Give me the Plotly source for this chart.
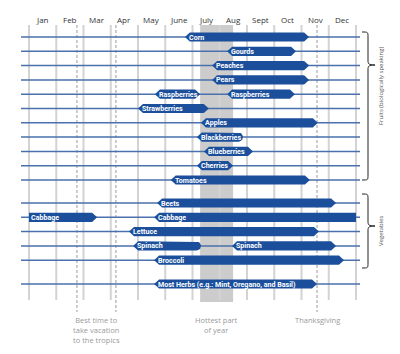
import math
import plotly.graph_objects as go

# ---------------- data ----------------
months = ["Jan", "Feb", "Mar", "Apr", "May", "June", "July", "Aug", "Sept", "Oct", "Nov", "Dec"]

fruit_rows = ["Corn", "Gourds", "Peaches", "Pears", "Raspberries", "Strawberries",
              "Apples", "Blackberries", "Blueberries", "Cherries", "Tomatoes"]
veg_rows = ["Beets", "Cabbage", "Lettuce", "Spinach", "Broccoli"]
herb_rows = ["Most Herbs (e.g.: Mint, Oregano, and Basil)"]

# seasons in months from Jan 1 (0) to Dec 31 (12): (row name, start, end)
season_crop = ["Corn", "Gourds", "Peaches", "Pears", "Raspberries", "Raspberries",
               "Strawberries", "Apples", "Blackberries", "Blueberries", "Cherries", "Tomatoes",
               "Beets", "Cabbage", "Cabbage", "Lettuce", "Spinach", "Spinach", "Broccoli",
               "Most Herbs (e.g.: Mint, Oregano, and Basil)"]
season_start = [5.72, 7.27, 6.72, 6.72, 4.62, 7.27, 4.00, 6.31, 6.16, 6.42, 6.16, 5.20,
                4.70, 0.00, 4.59, 3.67, 3.82, 7.45, 4.59, 4.59]
season_end = [10.28, 9.80, 10.28, 10.28, 6.28, 9.76, 6.60, 10.60, 7.85, 8.22, 7.49, 10.31,
              11.27, 2.50, 12.00, 10.64, 6.31, 11.27, 11.56, 10.57]
season_round_end = [False, False, False, False, False, False, False, False, True, False, False, False,
                    False, False, False, False, True, False, False, False]

vacation_range = [1.76, 3.19]
hottest_range = [6.28, 7.49]
thanksgiving = 10.57

group_labels = ["Fruits (biologically speaking)", "Vegetables"]

# ---------------- layout helpers ----------------
W, H = 400, 354
X0_PX, X_SCALE = 29.0, 27.25      # pixel of Jan 1, pixels per month
Y0_PX, Y_SCALE = 37.0, 14.3       # pixel of first row, pixels per row


def px_x(p):
    return (p - X0_PX) / X_SCALE


def px_y(p):
    return (p - Y0_PX) / Y_SCALE


row_pos = {}
for i, r in enumerate(fruit_rows):
    row_pos[r] = i
for k, r in enumerate(veg_rows):
    row_pos[r] = px_y(203) + k * 1.0
for k, r in enumerate(herb_rows):
    row_pos[r] = px_y(284) + k

BAR = "#1b4f9c"
LINE = "#4a70ad"
GRID = "#d3d3d3"
ANN = "#9a9a9a"

fig = go.Figure()
shapes = []
annotations = []

top_y, bot_y = px_y(25), px_y(300)

# hottest part of year band
shapes.append(dict(type="rect", layer="below", xref="x", yref="y",
                   x0=hottest_range[0], x1=hottest_range[1], y0=top_y, y1=px_y(302),
                   fillcolor="#cccccc", line=dict(width=0, color="rgba(0,0,0,0)")))
# month boundary lines
for m in range(13):
    shapes.append(dict(type="line", layer="below", x0=m, x1=m, y0=top_y, y1=bot_y,
                       line=dict(color=GRID, width=2)))
# dashed event lines
for xv in vacation_range + [thanksgiving]:
    shapes.append(dict(type="line", layer="below", x0=xv, x1=xv, y0=top_y, y1=px_y(312),
                       line=dict(color="#9a9a9a", width=1, dash="3px,2px")))
# horizontal row lines
for r, yv in row_pos.items():
    shapes.append(dict(type="line", layer="below", x0=px_x(21), x1=px_x(360), y0=yv, y1=yv,
                       line=dict(color=LINE, width=1.5)))

# month labels
for m, name in enumerate(months):
    annotations.append(dict(x=m + 0.5, y=px_y(19), text=name, showarrow=False,
                            font=dict(family="Open Sans", size=8, color="#333333"),
                            xanchor="center", yanchor="middle"))

# bars
tip = 5.0 / X_SCALE
hh = 4.6 / Y_SCALE
rx = 4.6 / X_SCALE
for name, s, e, rnd in zip(season_crop, season_start, season_end, season_round_end):
    yv = row_pos[name]
    xs, ys = [], []
    # left end
    if s <= 0.0:
        xs += [s, s]
        ys += [yv + hh, yv - hh]
    else:
        xs += [s + tip, s, s + tip]
        ys += [yv + hh, yv, yv - hh]
    # right end
    if e >= 12.0:
        xs += [e, e]
        ys += [yv - hh, yv + hh]
    elif rnd:
        cx = e - rx
        for k in range(13):
            a = -math.pi / 2 + math.pi * k / 12
            xs.append(cx + rx * math.cos(a))
            ys.append(yv + hh * math.sin(a))
    else:
        xs += [e - tip, e, e - tip]
        ys += [yv - hh, yv, yv + hh]
    xs.append(xs[0])
    ys.append(ys[0])
    fig.add_trace(go.Scatter(x=xs, y=ys, mode="lines", fill="toself", fillcolor=BAR,
                             line=dict(width=0, color=BAR), hoverinfo="skip", showlegend=False))
    annotations.append(dict(x=s if s <= 0 else s + tip, y=yv, text="<b>%s</b>" % name,
                            showarrow=False, xanchor="left", yanchor="middle",
                            xshift=0 if s <= 0 else -3,
                            font=dict(family="Roboto", size=7.1, color="white")))

# bottom annotations
ann_font = dict(family="Open Sans", size=7.5, color=ANN)
annotations.append(dict(x=sum(vacation_range) / 2, y=px_y(313), yanchor="top",
                        text="Best time to<br>take vacation<br>to the tropics", showarrow=False,
                        font=ann_font))
annotations.append(dict(x=sum(hottest_range) / 2, y=px_y(313), yanchor="top",
                        text="Hottest part<br>of year", showarrow=False, font=ann_font))
annotations.append(dict(x=thanksgiving, y=px_y(313), yanchor="top",
                        text="Thanksgiving", showarrow=False, font=ann_font))


def brace(top, mid, bot):
    xl, xb, xp = px_x(362), px_x(368), px_x(375)
    t, m, b = px_y(top), px_y(mid), px_y(bot)
    d = 5 / Y_SCALE
    return ("M %f,%f C %f,%f %f,%f %f,%f L %f,%f C %f,%f %f,%f %f,%f "
            "C %f,%f %f,%f %f,%f L %f,%f C %f,%f %f,%f %f,%f" % (
                xl, t, xb, t, xb, t, xb, t + d,
                xb, m - d,
                xb, m - d * 0.3, xb, m, xp, m,
                xb, m, xb, m + d * 0.3, xb, m + d,
                xb, b - d,
                xb, b, xb, b, xl, b))


shapes.append(dict(type="path", path=brace(32, 65, 180), line=dict(color="#222222", width=1)))
shapes.append(dict(type="path", path=brace(194, 226, 268), line=dict(color="#222222", width=1)))
annotations.append(dict(x=px_x(381), y=px_y(86), text=group_labels[0], textangle=-90, showarrow=False,
                        font=dict(family="Open Sans", size=6, color="#555555")))
annotations.append(dict(x=px_x(381), y=px_y(231), text=group_labels[1], textangle=-90, showarrow=False,
                        font=dict(family="Open Sans", size=6, color="#555555")))

fig.update_layout(
    width=W, height=H, autosize=False,
    margin=dict(l=0, r=0, t=0, b=0),
    paper_bgcolor="white", plot_bgcolor="white",
    xaxis=dict(range=[px_x(0), px_x(W)], visible=False, fixedrange=True),
    yaxis=dict(range=[px_y(H), px_y(0)], visible=False, fixedrange=True),
    shapes=shapes, annotations=annotations, showlegend=False,
)

fig.write_html("out.html", config={"displayModeBar": False})
